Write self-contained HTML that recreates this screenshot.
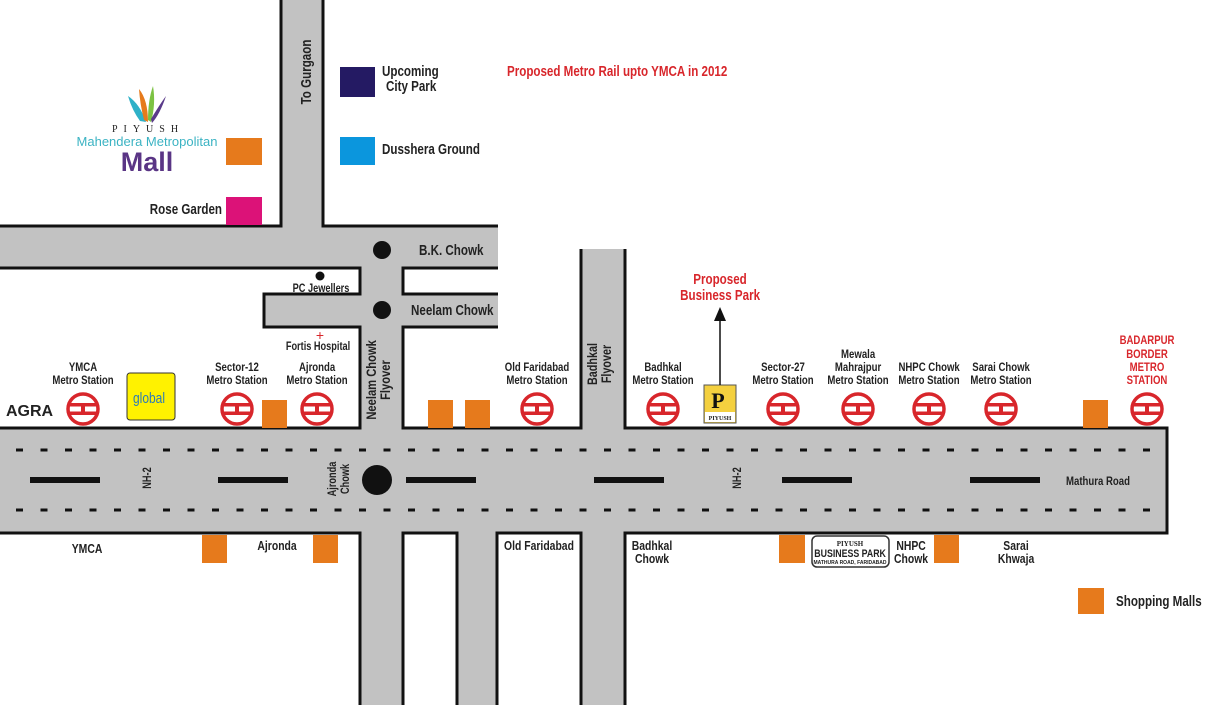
<!DOCTYPE html>
<html><head><meta charset="utf-8"><style>
html,body{margin:0;padding:0;background:#fff;}
svg{display:block;}
text{font-family:"Liberation Sans",sans-serif;font-weight:bold;font-size:12px;fill:#222;transform-box:fill-box;transform-origin:center;transform:scaleX(0.8);}
text.w{transform:none;}
text.s{transform-origin:left center;}
text.e{transform-origin:right center;text-anchor:end;}
.c{text-anchor:middle;}
.r{fill:#d8262b;}
.b{font-size:14.5px;}
</style></head><body>
<svg width="1210" height="705" viewBox="0 0 1210 705" xmlns="http://www.w3.org/2000/svg">
<defs>
<g id="m">
<circle r="15" fill="#fff" stroke="#d8262b" stroke-width="3.5"/>
<rect x="-14" y="-6" width="28" height="3.5" fill="#d8262b"/>
<rect x="-14" y="2.5" width="28" height="3.5" fill="#d8262b"/>
<rect x="-2" y="-3" width="4" height="6" fill="#d8262b"/>
</g>
</defs>
<g fill="#c2c2c2">
<rect x="281" y="0" width="42" height="226"/>
<rect x="0" y="226" width="498" height="42"/>
<rect x="360" y="226" width="43" height="479"/>
<rect x="264" y="294" width="234" height="33"/>
<rect x="0" y="428" width="1167" height="105"/>
<rect x="457" y="428" width="40" height="277"/>
<rect x="581" y="249" width="44" height="456"/>
</g>
<g stroke="#111" stroke-width="3" fill="none">
<path d="M281 0V226H0M323 0V226H498"/>
<path d="M0 268H360V294H264V327H360V428H0"/>
<path d="M498 268H403V294H498M498 327H403V428H581V249M625 249V428H1167V533H625V705"/>
<path d="M0 533H360V705M403 705V533H457V705M497 705V533H581V705"/>
</g>
<g fill="#111">
<circle cx="382" cy="250" r="9"/>
<circle cx="382" cy="310" r="9"/>
<circle cx="320" cy="276" r="4.5"/>
<circle cx="377" cy="480" r="15"/>
<rect x="30" y="477" width="70" height="6"/><rect x="218" y="477" width="70" height="6"/>
<rect x="406" y="477" width="70" height="6"/><rect x="594" y="477" width="70" height="6"/>
<rect x="782" y="477" width="70" height="6"/><rect x="970" y="477" width="70" height="6"/>
</g>
<g stroke="#111" stroke-width="3" stroke-dasharray="7 17.5">
<line x1="16" y1="450" x2="1160" y2="450"/>
<line x1="16" y1="510" x2="1160" y2="510"/>
</g>
<g fill="#e67a1c">
<rect x="226" y="138" width="36" height="27"/>
<rect x="262" y="400" width="25" height="28"/><rect x="428" y="400" width="25" height="28"/>
<rect x="465" y="400" width="25" height="28"/><rect x="1083" y="400" width="25" height="28"/>
<rect x="202" y="535" width="25" height="28"/><rect x="313" y="535" width="25" height="28"/>
<rect x="779" y="535" width="26" height="28"/><rect x="934" y="535" width="25" height="28"/>
<rect x="1078" y="588" width="26" height="26"/>
</g>
<rect x="226" y="197" width="36" height="28" fill="#dc1278"/>
<rect x="340" y="67" width="35" height="30" fill="#241a63"/>
<rect x="340" y="137" width="35" height="28" fill="#0b96dd"/>
<use href="#m" x="83" y="409"/><use href="#m" x="237" y="409"/><use href="#m" x="317" y="409"/>
<use href="#m" x="537" y="409"/><use href="#m" x="663" y="409"/><use href="#m" x="783" y="409"/>
<use href="#m" x="858" y="409"/><use href="#m" x="929" y="409"/><use href="#m" x="1001" y="409"/>
<use href="#m" x="1147" y="409"/>
<rect x="127" y="373" width="48" height="47" rx="3" fill="#fff200" stroke="#333" stroke-width="1"/>
<text x="149" y="403" class="c" style="font-size:15px;fill:#2b7bb9;font-weight:normal">global</text>
<rect x="704" y="385" width="32" height="38" fill="#f4d03f" stroke="#555"/>
<text x="718" y="408" class="c w" style="font-size:22px;font-family:'Liberation Serif',serif;fill:#111">P</text>
<rect x="705" y="412" width="30" height="10" fill="#fff"/>
<text x="720" y="420" class="c w" style="font-size:6px;font-family:'Liberation Serif',serif">PIYUSH</text>
<rect x="812" y="536" width="77" height="31" rx="5" fill="#fff" stroke="#333" stroke-width="1.5"/>
<text x="850" y="546" class="c w" style="font-size:7px;font-family:'Liberation Serif',serif">PIYUSH</text>
<text x="850" y="557" class="c" style="font-size:11px">BUSINESS PARK</text>
<text x="850" y="564" class="c w" style="font-size:5px">MATHURA ROAD, FARIDABAD</text>
<line x1="720" y1="385" x2="720" y2="318" stroke="#111" stroke-width="1.5"/>
<path d="M714 321L720 307L726 321Z" fill="#111"/>
<path d="M128 96Q140 104 146 122L140 121Q132 110 128 96Z" fill="#2fb1c8"/>
<path d="M139 89Q148 100 148 122L144 120Q140 104 139 89Z" fill="#e67a1c"/>
<path d="M153 86Q156 104 151 122L148 120Q148 100 153 86Z" fill="#7cc243"/>
<path d="M166 96Q160 114 152 123L151 119Q160 104 166 96Z" fill="#5a3a8a"/>
<text x="148" y="132" class="c w" style="font-family:'Liberation Serif',serif;font-weight:normal;font-size:10px;letter-spacing:6px">PIYUSH</text>
<text x="147" y="146" class="c w" style="font-weight:normal;font-size:13px;fill:#3bb3c3">Mahendera Metropolitan</text>
<text x="147" y="171" class="c w" style="font-size:27px;fill:#5a3585">Mall</text>
<text x="382" y="76" class="s b">Upcoming</text><text x="386" y="91" class="s b">City Park</text>
<text x="382" y="154" class="s b">Dusshera Ground</text>
<text x="507" y="76" class="s r b">Proposed Metro Rail upto YMCA in 2012</text>
<text x="222" y="214" class="e b">Rose Garden</text>
<g transform="rotate(-90 306 72)"><text x="306" y="77" class="c b">To Gurgaon</text></g>
<text x="419" y="255" class="s b">B.K. Chowk</text>
<text x="411" y="315" class="s b">Neelam Chowk</text>
<text x="321" y="292" class="c" style="font-size:11.5px">PC Jewellers</text>
<text x="320" y="340" class="c r w" style="font-size:14px;font-weight:normal">+</text>
<text x="318" y="350" class="c" style="font-size:11.5px">Fortis Hospital</text>
<g transform="rotate(-90 382 380)"><text x="382" y="374" class="c" style="font-size:14px">Neelam Chowk</text><text x="382" y="388" class="c" style="font-size:14px">Flyover</text></g>
<g transform="rotate(-90 603 364)"><text x="603" y="358" class="c" style="font-size:13.5px">Badhkal</text><text x="603" y="372" class="c" style="font-size:13.5px">Flyover</text></g>
<g transform="rotate(-90 342 479)"><text x="342" y="473" class="c" style="font-size:11.5px">Ajronda</text><text x="342" y="486" class="c" style="font-size:11.5px">Chowk</text></g>
<g transform="rotate(-90 147 478)"><text x="147" y="482" class="c" style="font-size:11.5px">NH-2</text></g>
<g transform="rotate(-90 737 478)"><text x="737" y="482" class="c" style="font-size:11.5px">NH-2</text></g>
<text x="6" y="416" class="w" style="font-size:16px">AGRA</text>
<text x="83" y="371" class="c">YMCA</text><text x="83" y="384" class="c">Metro Station</text>
<text x="237" y="371" class="c">Sector-12</text><text x="237" y="384" class="c">Metro Station</text>
<text x="317" y="371" class="c">Ajronda</text><text x="317" y="384" class="c">Metro Station</text>
<text x="537" y="371" class="c">Old Faridabad</text><text x="537" y="384" class="c">Metro Station</text>
<text x="663" y="371" class="c">Badhkal</text><text x="663" y="384" class="c">Metro Station</text>
<text x="783" y="371" class="c">Sector-27</text><text x="783" y="384" class="c">Metro Station</text>
<text x="858" y="358" class="c">Mewala</text><text x="858" y="371" class="c">Mahrajpur</text><text x="858" y="384" class="c">Metro Station</text>
<text x="929" y="371" class="c">NHPC Chowk</text><text x="929" y="384" class="c">Metro Station</text>
<text x="1001" y="371" class="c">Sarai Chowk</text><text x="1001" y="384" class="c">Metro Station</text>
<text x="1147" y="344" class="c r">BADARPUR</text><text x="1147" y="358" class="c r">BORDER</text>
<text x="1147" y="371" class="c r">METRO</text><text x="1147" y="384" class="c r">STATION</text>
<text x="720" y="284" class="c r b">Proposed</text><text x="720" y="300" class="c r b">Business Park</text>
<text x="1066" y="485" class="s">Mathura Road</text>
<text x="87" y="553" class="c" style="font-size:13px">YMCA</text>
<text x="277" y="550" class="c" style="font-size:13px">Ajronda</text>
<text x="539" y="550" class="c" style="font-size:13px">Old Faridabad</text>
<text x="652" y="550" class="c" style="font-size:13px">Badhkal</text><text x="652" y="563" class="c" style="font-size:13px">Chowk</text>
<text x="911" y="550" class="c" style="font-size:13px">NHPC</text><text x="911" y="563" class="c" style="font-size:13px">Chowk</text>
<text x="1016" y="550" class="c" style="font-size:13px">Sarai</text><text x="1016" y="563" class="c" style="font-size:13px">Khwaja</text>
<text x="1116" y="606" class="s b">Shopping Malls</text>
</svg>
</body></html>
